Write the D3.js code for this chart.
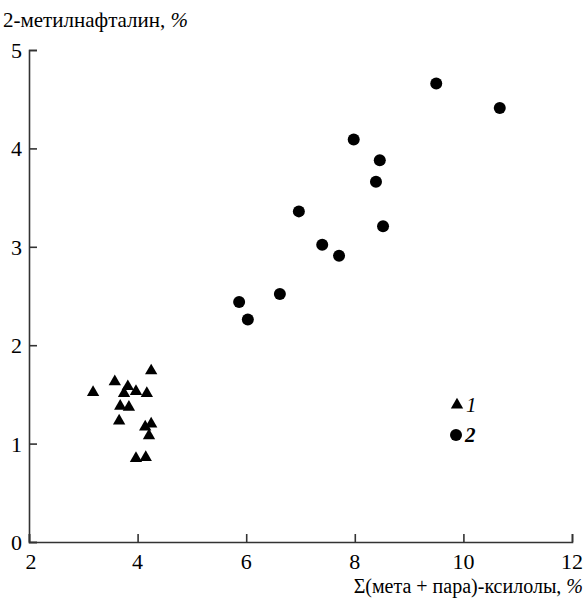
<!DOCTYPE html>
<html>
<head>
<meta charset="utf-8">
<script src="https://cdn.jsdelivr.net/npm/d3@7"></script>
<style>
  body { margin: 0; background: #fff; }
  svg text { font-family: "Liberation Serif", "Times New Roman", Times, serif; fill: #000; }
</style>
</head>
<body>
<svg id="chart" width="586" height="598"></svg>
<script>
// series 1 (triangles)
var triX = [3.18, 3.58, 4.25, 3.82, 3.75, 3.97, 4.17, 3.68, 3.84, 3.66, 4.14, 4.25, 4.21, 3.97, 4.15];
var triY = [1.52, 1.63, 1.74, 1.58, 1.51, 1.53, 1.51, 1.38, 1.37, 1.23, 1.17, 1.20, 1.08, 0.85, 0.86];
// series 2 (circles)
var dotX = [5.87, 6.03, 6.62, 6.97, 7.40, 7.71, 7.98, 8.46, 8.39, 8.52, 9.50, 10.67];
var dotY = [2.44, 2.26, 2.52, 3.36, 3.02, 2.91, 4.09, 3.88, 3.66, 3.21, 4.66, 4.41];

var xTicks = [2, 4, 6, 8, 10, 12];
var yTicks = [0, 1, 2, 3, 4, 5];
var yTitle = "2-метилнафталин, ";
var xTitle = "Σ(мета + пара)-ксилолы, ";

var svg = d3.select("#chart");
var x = d3.scaleLinear().domain([2, 12]).range([29, 572]);
var y = d3.scaleLinear().domain([0, 5]).range([542, 50]);

// axes, ticks pointing inward
var xAxis = d3.axisBottom(x).tickValues(xTicks).tickSize(-8).tickFormat("");
var yAxis = d3.axisLeft(y).tickValues(yTicks).tickSize(-8).tickFormat("");
var gx = svg.append("g").attr("transform", "translate(0," + y(0) + ")").call(xAxis);
var gy = svg.append("g").attr("transform", "translate(" + x(2) + ",0)").call(yAxis);
[gx, gy].forEach(function(g) {
    g.select(".domain").attr("stroke", "#333").attr("stroke-width", 1.6);
    g.selectAll(".tick line").attr("stroke", "#333").attr("stroke-width", 1.6);
});

// tick labels
svg.selectAll(".xlab").data(xTicks).enter().append("text")
    .attr("x", function(d) { return x(d) + (d == 2 ? 2 : 0); })
    .attr("y", 569)
    .attr("text-anchor", "middle")
    .style("font-size", "22px")
    .text(function(d) { return d; });
svg.selectAll(".ylab").data(yTicks).enter().append("text")
    .attr("x", 22)
    .attr("y", function(d) { return y(d) + 8; })
    .attr("text-anchor", "end")
    .style("font-size", "22px")
    .text(function(d) { return d; });

// titles
var yt = svg.append("text").attr("x", 3).attr("y", 27).style("font-size", "21px").text(yTitle);
yt.append("tspan").style("font-style", "italic").text("%");
var xt = svg.append("text").attr("x", 583).attr("y", 593).attr("text-anchor", "end").style("font-size", "20px").text(xTitle);
xt.append("tspan").style("font-style", "italic").text("%");

// marks
var tri = d3.symbol().type(d3.symbolTriangle).size(66);
svg.selectAll(".tri").data(triX).enter().append("path")
    .attr("d", tri)
    .attr("transform", function(d, i) { return "translate(" + x(d) + "," + y(triY[i]) + ")"; })
    .attr("fill", "#000");
svg.selectAll(".dot").data(dotX).enter().append("circle")
    .attr("cx", function(d) { return x(d); })
    .attr("cy", function(d, i) { return y(dotY[i]); })
    .attr("r", 6)
    .attr("fill", "#000");

// legend
svg.append("path").attr("d", tri).attr("transform", "translate(457,405)").attr("fill", "#000");
svg.append("text").attr("x", 466).attr("y", 412).style("font-size", "21px").style("font-style", "italic").text("1");
svg.append("circle").attr("cx", 456).attr("cy", 435).attr("r", 6).attr("fill", "#000");
svg.append("text").attr("x", 465).attr("y", 442).style("font-size", "21px").style("font-style", "italic").style("font-weight", "bold").text("2");
</script>
</body>
</html>
